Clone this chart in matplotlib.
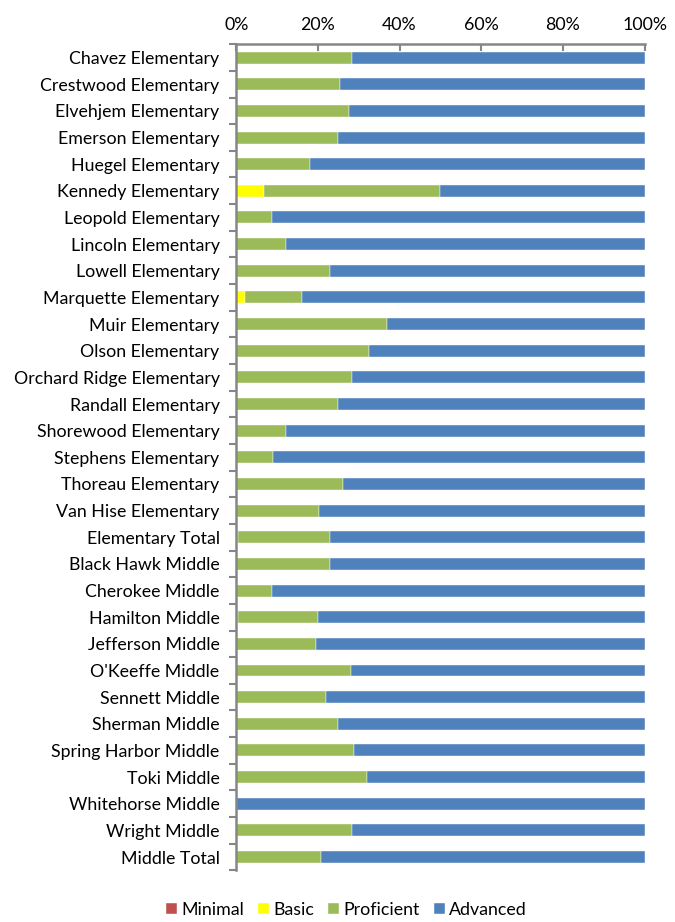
import matplotlib.pyplot as plt
import numpy as np

plt.rcParams['font.family'] = ['Lato', 'DejaVu Sans']

schools = ['Chavez Elementary', 'Crestwood Elementary', 'Elvehjem Elementary', 'Emerson Elementary',
           'Huegel Elementary', 'Kennedy Elementary', 'Leopold Elementary', 'Lincoln Elementary',
           'Lowell Elementary', 'Marquette Elementary', 'Muir Elementary', 'Olson Elementary',
           'Orchard Ridge Elementary', 'Randall Elementary', 'Shorewood Elementary', 'Stephens Elementary',
           'Thoreau Elementary', 'Van Hise Elementary', 'Elementary Total', 'Black Hawk Middle',
           'Cherokee Middle', 'Hamilton Middle', 'Jefferson Middle', "O'Keeffe Middle", 'Sennett Middle',
           'Sherman Middle', 'Spring Harbor Middle', 'Toki Middle', 'Whitehorse Middle', 'Wright Middle',
           'Middle Total']

minimal = [0] * 31
basic = [0, 0, 0, 0, 0, 6.9, 0, 0, 0, 2.2, 0, 0, 0, 0, 0, 0, 0, 0, 0.5, 0,
         0, 0.5, 0, 0, 0, 0, 0, 0, 0, 0, 0]
proficient = [28.4, 25.5, 27.5, 25.0, 18.1, 43.1, 8.8, 12.3, 23.0, 14.0, 36.8, 32.4,
              28.4, 24.8, 12.3, 9.0, 26.2, 20.3, 22.5, 23.0, 8.8, 19.4, 19.6, 28.2,
              22.0, 25.0, 28.9, 32.1, 0, 28.4, 20.8]
advanced = [100 - m - b - p for m, b, p in zip(minimal, basic, proficient)]

levels = ['Minimal', 'Basic', 'Proficient', 'Advanced']
colors = ['#C0504D', '#FFFF00', '#9BBB59', '#4F81BD']

fig = plt.figure(figsize=(6.75, 9.22), dpi=100)
ax = fig.add_axes([0.35, 0.056, 0.605, 0.896])

y = np.arange(len(schools))
left = np.zeros(len(schools))
for name, vals, c in zip(levels, [minimal, basic, proficient, advanced], colors):
    vals = np.array(vals)
    ax.barh(y, vals, left=left, height=0.45, color=c, label=name,
            edgecolor='white', linewidth=0.3)
    left += vals

ax.set_xlim(0, 100)
ax.set_ylim(len(schools) - 0.5, -0.5)
ax.set_yticks(y)
ax.set_yticklabels(schools, fontsize=12.8)
ax.set_yticks(np.arange(len(schools) + 1) - 0.5, minor=True)
ax.tick_params(axis='y', which='major', length=0, pad=12)
ax.tick_params(axis='y', which='minor', length=5, color='#868686', width=1.5)
ax.set_xticks([0, 20, 40, 60, 80, 100])
ax.set_xticklabels(['0%', '20%', '40%', '60%', '80%', '100%'], fontsize=12.8)
ax.xaxis.tick_top()
ax.tick_params(axis='x', length=5, color='#868686', width=1.5, direction='in', pad=8)

for s in ['right', 'bottom']:
    ax.spines[s].set_visible(False)
for s in ['left', 'top']:
    ax.spines[s].set_color('#868686')
    ax.spines[s].set_linewidth(1.8)

fig.legend(loc='lower center', ncol=4, frameon=False, fontsize=12.8,
           bbox_to_anchor=(0.513, -0.013), handlelength=0.6, handleheight=0.6,
           handletextpad=0.25, columnspacing=0.8)

fig.savefig('out.png', dpi=100)
